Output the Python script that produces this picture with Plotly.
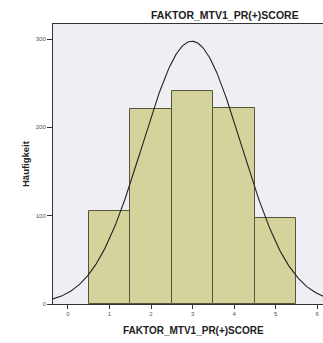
import numpy as np
import plotly.graph_objects as go

# Histogram of factor scores (bin centres and counts)
bin_centres = [1, 2, 3, 4, 5]
counts = [105, 221, 241, 222, 97]
x_ticks = [0, 1, 2, 3, 4, 5, 6]
y_ticks = [0, 100, 200, 300]
title_text = "FAKTOR_MTV1_PR(+)SCORE"
y_title = "Häufigkeit"

# Fitted normal curve scaled to the histogram (N * bin width * pdf)
c = np.array(bin_centres, dtype=float)
n = np.array(counts, dtype=float)
total = n.sum()
mean = (c * n).sum() / total
sd = np.sqrt(((c - mean) ** 2 * n).sum() / total)
xs = np.linspace(-0.4, 6.2, 300)
ys = total * 1.0 / (sd * np.sqrt(2 * np.pi)) * np.exp(-0.5 * ((xs - mean) / sd) ** 2)

fig = go.Figure()
fig.add_trace(go.Bar(
    x=bin_centres, y=counts, width=1,
    marker=dict(color="#d5d39c", line=dict(color="#55553a", width=1)),
    hoverinfo="x+y",
))
fig.add_trace(go.Scatter(
    x=xs, y=ys, mode="lines",
    line=dict(color="#222222", width=1.1),
))

fig.update_layout(
    width=323, height=343,
    margin=dict(l=53, r=0, t=24, b=39),
    paper_bgcolor="white",
    plot_bgcolor="#efeef2",
    showlegend=False,
    bargap=0,
    font=dict(family="Liberation Sans, Arial, sans-serif", color="#444444", size=6),
)
fig.update_xaxes(
    range=[-0.36, 6.14],
    tickvals=x_ticks,
    ticks="outside", ticklen=4, tickcolor="#333333",
    showline=True, linecolor="#333333", linewidth=1, mirror=True,
    showgrid=False, zeroline=False,
    tickfont=dict(size=6, color="#555555"),
)
fig.update_yaxes(
    range=[0, 317],
    tickvals=y_ticks,
    ticks="outside", ticklen=5, tickcolor="#333333",
    showline=True, linecolor="#333333", linewidth=1,
    showgrid=False, zeroline=False,
    tickfont=dict(size=6, color="#555555"),
)

# Chart title, axis titles
fig.add_annotation(
    text="<b>" + title_text + "</b>", xref="paper", yref="paper",
    x=(225 - 53) / 270, y=1, yshift=9, showarrow=False,
    font=dict(size=10.5, color="#222222"), xanchor="center", yanchor="middle",
)
fig.add_annotation(
    text="<b>" + title_text + "</b>", xref="paper", yref="paper",
    x=(193 - 53) / 270, y=0, yshift=-26, showarrow=False,
    font=dict(size=10, color="#222222"), xanchor="center", yanchor="middle",
)
fig.add_annotation(
    text="<b>" + y_title + "</b>", xref="paper", yref="paper",
    x=0, xshift=-28, y=(304 - 164) / 280, showarrow=False, textangle=-90,
    font=dict(size=9.5, color="#222222"), xanchor="center", yanchor="middle",
)

fig.write_html("out.html")
